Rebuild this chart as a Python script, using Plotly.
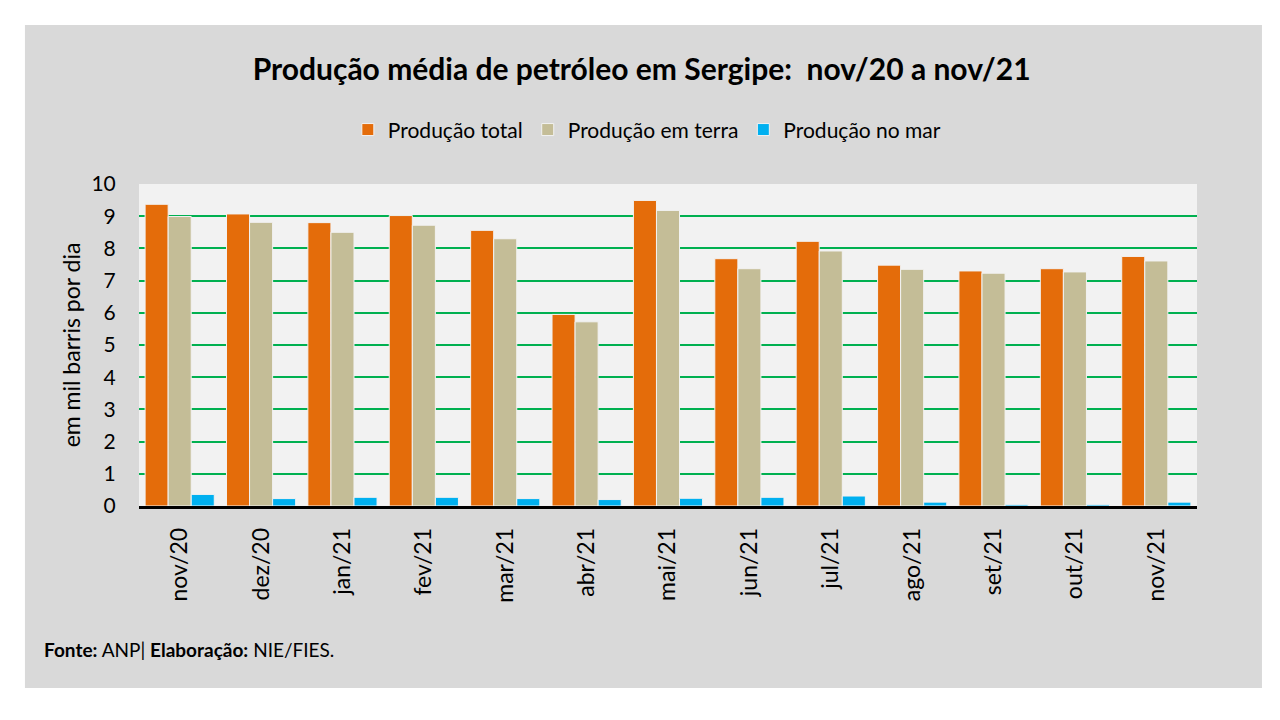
import plotly.graph_objects as go

# Produção média de petróleo em Sergipe (mil barris por dia)
meses = ['nov/20', 'dez/20', 'jan/21', 'fev/21', 'mar/21', 'abr/21', 'mai/21',
         'jun/21', 'jul/21', 'ago/21', 'set/21', 'out/21', 'nov/21']
producao_total = [9.37, 9.07, 8.80, 9.02, 8.56, 5.95, 9.49, 7.68, 8.22, 7.48, 7.30, 7.37, 7.75]
producao_terra = [8.99, 8.81, 8.50, 8.72, 8.30, 5.72, 9.18, 7.37, 7.92, 7.35, 7.23, 7.27, 7.61]
producao_mar = [0.36, 0.23, 0.27, 0.27, 0.23, 0.20, 0.24, 0.27, 0.31, 0.12, 0.05, 0.05, 0.12]

FONT = 'Lato'

fig = go.Figure()

series = [
    ('Produção total', producao_total, '#E46C0A'),
    ('Produção em terra', producao_terra, '#C4BD97'),
    ('Produção no mar', producao_mar, '#00B0F0'),
]
for nome, valores, cor in series:
    fig.add_trace(go.Bar(
        x=meses, y=valores, name=nome,
        marker=dict(color=cor, line=dict(color='#f2f2f2', width=1)),
    ))

fig.update_layout(
    width=1280, height=720,
    margin=dict(l=131, r=91, t=176, b=222),
    paper_bgcolor='white',
    plot_bgcolor='rgba(0,0,0,0)',
    font=dict(family=FONT, color='black'),
    barmode='group', bargap=0.15, bargroupgap=0,
    title=dict(
        text='<b>Produção média de petróleo em Sergipe:  nov/20 a nov/21</b>',
        x=0.495, xanchor='center', y=0.914, yanchor='middle', yref='container',
        font=dict(size=30, family=FONT, color='black'),
    ),
    legend=dict(
        orientation='h', x=0.48, xanchor='center', y=1.168, yanchor='middle',
        font=dict(size=21, family=FONT), bgcolor='rgba(0,0,0,0)',
        itemwidth=30, tracegroupgap=0,
    ),
    showlegend=True,
)

# gray outer box and light plotting area
fig.add_shape(type='rect', xref='paper', yref='paper',
              x0=-0.1078, x1=1.0614, y0=-0.5652, y1=1.4938,
              fillcolor='#d9d9d9', line=dict(width=0), layer='below')
fig.add_shape(type='rect', xref='paper', yref='paper',
              x0=0, x1=1, y0=0, y1=1,
              fillcolor='#f2f2f2', line=dict(width=0), layer='below')

fig.update_xaxes(
    tickangle=-90, tickfont=dict(size=23, family=FONT),
    showline=True, linecolor='black', linewidth=2.5,
    ticks='outside', ticklen=10, tickcolor='rgba(0,0,0,0)', showgrid=False,
)
fig.update_yaxes(
    range=[0, 10], dtick=1, tickfont=dict(size=21, family=FONT),
    showgrid=True, gridcolor='#00B050', gridwidth=2,
    zeroline=False, showline=False,
    ticks='outside', ticklen=18, tickcolor='rgba(0,0,0,0)',
    title=dict(text='em mil barris por dia', font=dict(size=23, family=FONT), standoff=4),
)

fig.add_annotation(
    text='<b>Fonte:</b> ANP| <b>Elaboração:</b> NIE/FIES.',
    xref='paper', yref='paper', x=-0.0917, y=-0.447,
    xanchor='left', yanchor='middle', showarrow=False,
    font=dict(size=19, family=FONT, color='black'),
)

fig.write_html('out.html')
